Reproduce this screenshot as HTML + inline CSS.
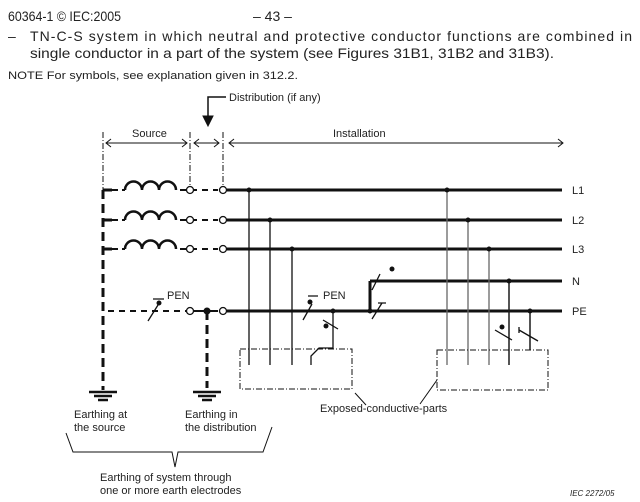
<!DOCTYPE html><html><head><style>body{margin:0;background:#fff}svg{display:block}text{font-family:"Liberation Sans",sans-serif;fill:#222}</style></head><body>
<svg width="640" height="502" viewBox="0 0 640 502" xmlns="http://www.w3.org/2000/svg">
<g font-size="14">
<text x="8" y="21" textLength="113" lengthAdjust="spacingAndGlyphs">60364-1 © IEC:2005</text>
<text x="253" y="21">– 43 –</text>
<text x="8" y="41">–</text>
<text x="30" y="41" textLength="602" lengthAdjust="spacing">TN-C-S system in which neutral and protective conductor functions are combined in</text>
<text x="30" y="58" textLength="524" lengthAdjust="spacingAndGlyphs">single conductor in a part of the system (see Figures 31B1, 31B2 and 31B3).</text>
</g>
<text x="8" y="79" font-size="11" textLength="290" lengthAdjust="spacingAndGlyphs">NOTE  For symbols, see explanation given in 312.2.</text>
<g font-size="11">
<text x="229" y="101">Distribution (if any)</text>
<text x="132" y="137">Source</text>
<text x="333" y="137">Installation</text>
<text x="572" y="194">L1</text><text x="572" y="224">L2</text><text x="572" y="253">L3</text>
<text x="572" y="285">N</text><text x="572" y="315">PE</text>
<text x="167" y="299">PEN</text><text x="323" y="299">PEN</text>
<text x="320" y="412">Exposed-conductive-parts</text>
<text x="74" y="418">Earthing at</text><text x="74" y="431">the source</text>
<text x="185" y="418">Earthing in</text><text x="185" y="431">the distribution</text>
<text x="100" y="481">Earthing of system through</text><text x="100" y="494">one or more earth electrodes</text>
<text x="570" y="496" font-size="8" font-style="italic">IEC   2272/05</text>
</g>
<g stroke="#111" fill="none">
<!-- distribution arrow -->
<path d="M226 97H208V116" stroke-width="1.5"/><path d="M203 116L208 126L213 116Z" fill="#111"/>
<!-- dim lines -->
<path d="M103 132V190M190 132V188M223 132V188" stroke-dasharray="6,2,1,2"/>
<path d="M106 143H187M194 143H219M229 143H563" stroke-width="1"/>
<path d="M111 139L106 143L111 147M182 139L187 143L182 147M199 139L194 143L199 147M214 139L219 143L214 147M234 139L229 143L234 147M558 139L563 143L558 147"/>
<!-- source dashed -->
<path d="M103 190V390" stroke-width="3" stroke-dasharray="9,5"/>
<path d="M103 190H112M103 220H112M103 249H112" stroke-width="3"/>
<path d="M112 190H125M112 220H125M112 249H125" stroke-width="2" stroke-dasharray="6,4"/>
<g stroke-width="2.5">
<path d="M125 190a8.5 8.5 0 0 1 17 0a8.5 8.5 0 0 1 17 0a8.5 8.5 0 0 1 17 0"/>
<path d="M125 220a8.5 8.5 0 0 1 17 0a8.5 8.5 0 0 1 17 0a8.5 8.5 0 0 1 17 0"/>
<path d="M125 249a8.5 8.5 0 0 1 17 0a8.5 8.5 0 0 1 17 0a8.5 8.5 0 0 1 17 0"/>
</g>
<path d="M180 190H218M180 220H218M180 249H218M108 311H186" stroke-width="2" stroke-dasharray="6,5"/>
<path d="M194 311H218" stroke-width="2"/>
<!-- main lines -->
<path d="M227 190H562M227 220H562M227 249H562M227 311H562M370 281H562M370 311V281" stroke-width="3"/>
<!-- verticals -->
<path d="M249 190V365M270 220V365M292 249V365M333 311V348L326 348L319 348L311 356V365" stroke-width="1.3"/>
<path d="M447 190V365M468 220V365M489 249V365M509 281V365M530 311V350" stroke="#666" stroke-width="1.3"/>
<path d="M509 281V365M530 311V350" stroke="#111" stroke-width="1.3"/>
<!-- dist earth -->
<path d="M207 311V388" stroke-width="3" stroke-dasharray="9,5"/>
<!-- grounds -->
<path d="M89 392H117M94 396H112M98 400H108" stroke-width="2.5"/>
<path d="M193 392H221M198 396H216M202 400H212" stroke-width="2.5"/>
<!-- switches -->
<path d="M148 321L158 305M153 299H164M303 320L312 304M308 296H318M323 320L338 329M372 290L380 274M372 319L382 303M378 303H386M495 330L512 340M519 330L538 341M519 327V333" stroke-width="1.3"/>
<!-- boxes -->
<path d="M240 349H352V389H240Z M437 350H548V390H437Z" stroke-dasharray="6,2,1,2" stroke-width="1"/>
<path d="M355 393L366 405M437 380L420 404" stroke-width="1"/>
<!-- bracket -->
<path d="M66 433L73 452H172L175 467L178 452H263L272 427" stroke-width="1"/>
</g>
<g fill="#fff" stroke="#111" stroke-width="1.3">
<circle cx="190" cy="190" r="3.5"/><circle cx="223" cy="190" r="3.5"/>
<circle cx="190" cy="220" r="3.5"/><circle cx="223" cy="220" r="3.5"/>
<circle cx="190" cy="249" r="3.5"/><circle cx="223" cy="249" r="3.5"/>
<circle cx="190" cy="311" r="3.5"/><circle cx="223" cy="311" r="3.5"/>
</g>
<g fill="#111">
<circle cx="207" cy="311" r="3.5"/>
<circle cx="249" cy="190" r="2.5"/><circle cx="270" cy="220" r="2.5"/><circle cx="292" cy="249" r="2.5"/>
<circle cx="447" cy="190" r="2.5"/><circle cx="468" cy="220" r="2.5"/><circle cx="489" cy="249" r="2.5"/>
<circle cx="333" cy="311" r="2.5"/><circle cx="370" cy="311" r="2.5"/><circle cx="509" cy="281" r="2.5"/><circle cx="530" cy="311" r="2.5"/>
<circle cx="159" cy="303" r="2.5"/><circle cx="310" cy="302" r="2.5"/><circle cx="326" cy="326" r="2.5"/><circle cx="392" cy="269" r="2.5"/><circle cx="502" cy="327" r="2.5"/>
</g>
</svg></body></html>
